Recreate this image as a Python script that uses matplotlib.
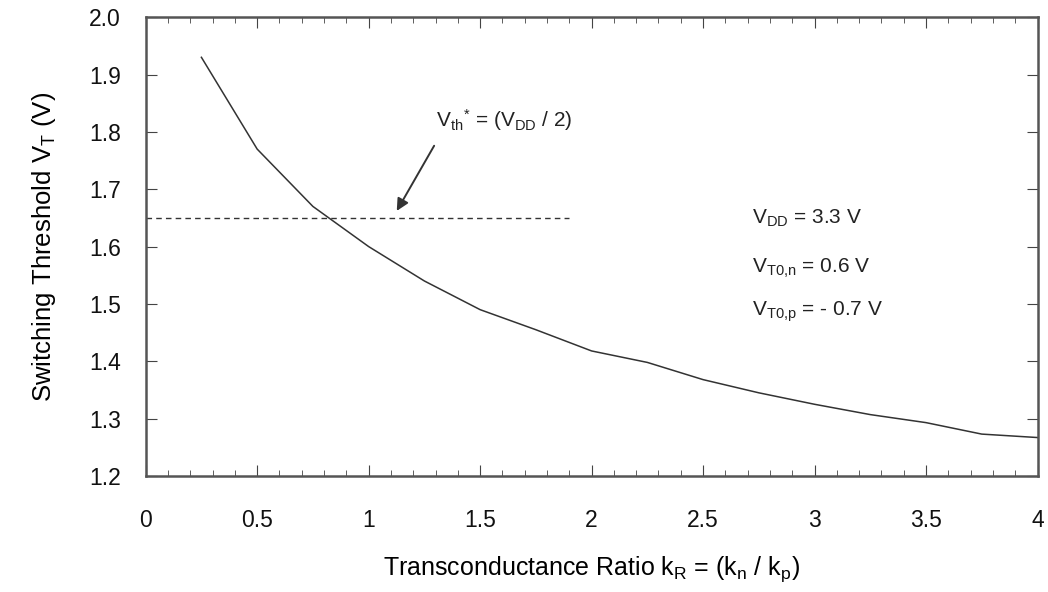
import matplotlib
matplotlib.use('Agg')
import matplotlib.pyplot as plt
import matplotlib.ticker as ticker

plt.rcParams['font.family'] = ['Liberation Sans', 'DejaVu Sans']
plt.rcParams['mathtext.fontset'] = 'custom'
plt.rcParams['mathtext.rm'] = 'Liberation Sans'
plt.rcParams['mathtext.it'] = 'Liberation Sans'

# data
kR = [0.25, 0.5, 0.75, 1.0, 1.25, 1.5, 1.75, 2.0, 2.25, 2.5, 2.75, 3.0, 3.25, 3.5, 3.75, 4.0]
VT = [1.93, 1.77, 1.67, 1.60, 1.54, 1.49, 1.455, 1.418, 1.398, 1.368, 1.345, 1.325, 1.307, 1.293, 1.273, 1.267]

vth_level = 1.65
vth_x = [0, 1.9]

xticks = [0, 0.5, 1, 1.5, 2, 2.5, 3, 3.5, 4]
xticklabels = ['0', '0.5', '1', '1.5', '2', '2.5', '3', '3.5', '4']
yticks = [1.2, 1.3, 1.4, 1.5, 1.6, 1.7, 1.8, 1.9, 2.0]

fig = plt.figure(figsize=(10.48, 5.92), dpi=100)
ax = fig.add_axes([0.139, 0.196, 0.851, 0.775])

ax.plot(kR, VT, color='#333333', lw=1.1)
ax.plot(vth_x, [vth_level, vth_level], color='#333333', lw=1.0, ls=(0, (4, 3)))

ax.annotate('', xy=(1.12, 1.658), xytext=(1.30, 1.78),
            arrowprops=dict(arrowstyle='-|>', color='#333333', lw=1.4, mutation_scale=18))
ax.text(1.61, 1.82, r'$\mathregular{V_{th}}^{*}$ = ($\mathregular{V_{DD}}$ / 2)',
        fontsize=15, ha='center', va='center', color='#222222')

ax.text(2.72, 1.65, r'$\mathregular{V_{DD}}$ = 3.3 V', fontsize=15, va='center', color='#222222')
ax.text(2.72, 1.562, r'$\mathregular{V_{T0{,}n}}$ = 0.6 V', fontsize=15, va='center', color='#222222')
ax.text(2.72, 1.486, r'$\mathregular{V_{T0{,}p}}$ = - 0.7 V', fontsize=15, va='center', color='#222222')

ax.set_xlim(0, 4)
ax.set_ylim(1.2, 2.0)
ax.set_xticks(xticks)
ax.set_xticklabels(xticklabels)
ax.set_yticks(yticks)
ax.yaxis.set_major_formatter(ticker.FormatStrFormatter('%.1f'))
ax.xaxis.set_minor_locator(ticker.MultipleLocator(0.1))

ax.tick_params(which='both', direction='in', top=True, right=True, colors='#444444',
               labelcolor='#111111', labelsize=16.5)
ax.tick_params(axis='x', which='major', length=8, pad=24)
ax.tick_params(axis='x', which='minor', length=4)
ax.tick_params(axis='y', which='major', length=8, pad=18)

for s in ax.spines.values():
    s.set_linewidth(1.8)
    s.set_color('#555555')

ax.set_xlabel(r'Transconductance Ratio $\mathregular{k_R}$ = ($\mathregular{k_n}$ / $\mathregular{k_p}$)',
              fontsize=18, labelpad=16)
ax.set_ylabel(r'Switching Threshold $\mathregular{V_T}$ (V)', fontsize=18.5, labelpad=22)

fig.savefig('out.png', dpi=100)
